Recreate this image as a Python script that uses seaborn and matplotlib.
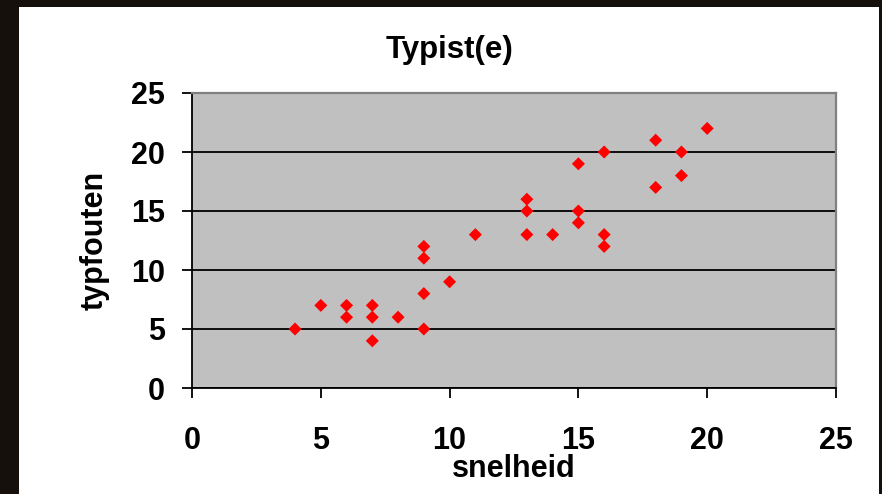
import matplotlib
matplotlib.use("Agg")
import matplotlib.pyplot as plt
import seaborn as sns
import pandas as pd
from matplotlib.patches import Rectangle

# Data
snelheid = [4, 5, 6, 6, 7, 7, 7, 8, 9, 9, 9, 9, 10, 11, 13, 13, 13, 14,
            15, 15, 15, 16, 16, 16, 18, 18, 19, 19, 20]
typfouten = [5, 7, 7, 6, 7, 6, 4, 6, 12, 11, 8, 5, 9, 13, 16, 15, 13, 13,
             19, 15, 14, 20, 13, 12, 21, 17, 20, 18, 22]
x_ticks = [0, 5, 10, 15, 20, 25]
y_ticks = [0, 5, 10, 15, 20, 25]
title = "Typist(e)"
x_label = "snelheid"
y_label = "typfouten"

df = pd.DataFrame({"snelheid": snelheid, "typfouten": typfouten})

sns.set_theme(style="white")
plt.rcParams["font.family"] = ["Liberation Sans", "DejaVu Sans"]

W, H = 882, 494
fig = plt.figure(figsize=(W / 100, H / 100), dpi=100)
fig.patch.set_facecolor("#15100b")
fig.patches.append(Rectangle((19 / W, 0), (879 - 19) / W, (H - 7) / H,
                             transform=fig.transFigure, facecolor="white",
                             edgecolor="none", zorder=-10))

left, right, top, bottom = 192, 836, 93, 388
ax = fig.add_axes([left / W, (H - bottom) / H, (right - left) / W, (bottom - top) / H])
ax.set_zorder(1)
ax.set_facecolor("#C0C0C0")

sns.scatterplot(data=df, x="snelheid", y="typfouten", ax=ax, marker="D",
                s=44, color="#FF0000", edgecolor="none", linewidth=0, zorder=3)

ax.set_xlim(0, 25)
ax.set_ylim(0, 25)
ax.set_xticks(x_ticks)
ax.set_yticks(y_ticks)
ax.set_xticklabels([str(t) for t in x_ticks], fontsize=22, fontweight="bold", color="black")
ax.set_yticklabels([str(t) for t in y_ticks], fontsize=22, fontweight="bold", color="black")

ax.yaxis.grid(True, color="black", linewidth=1.3)
ax.xaxis.grid(False)
ax.set_axisbelow(True)

for s in ["left", "bottom"]:
    ax.spines[s].set_color("black")
    ax.spines[s].set_linewidth(1.3)
for s in ["top", "right"]:
    ax.spines[s].set_color("#808080")
    ax.spines[s].set_linewidth(1.6)

ax.tick_params(axis="x", direction="out", length=7.5, width=1.3, color="black", pad=20,
               bottom=True)
ax.tick_params(axis="y", direction="out", length=7.5, width=1.3, color="black", pad=12,
               left=True)

ax.set_xlabel(x_label, fontsize=22, fontweight="bold", color="black", va="baseline")
ax.xaxis.set_label_coords(0.5, (bottom - 477) / (bottom - top))
ax.set_ylabel(y_label, fontsize=22, fontweight="bold", color="black", va="center")
ax.yaxis.set_label_coords((95 - left) / (right - left), 0.5)

fig.text(449.5 / W, 1 - 57.7 / H, title, ha="center", va="baseline",
         fontsize=22.5, fontweight="bold", color="black")

fig.savefig("out.png", dpi=100, facecolor=fig.get_facecolor())
